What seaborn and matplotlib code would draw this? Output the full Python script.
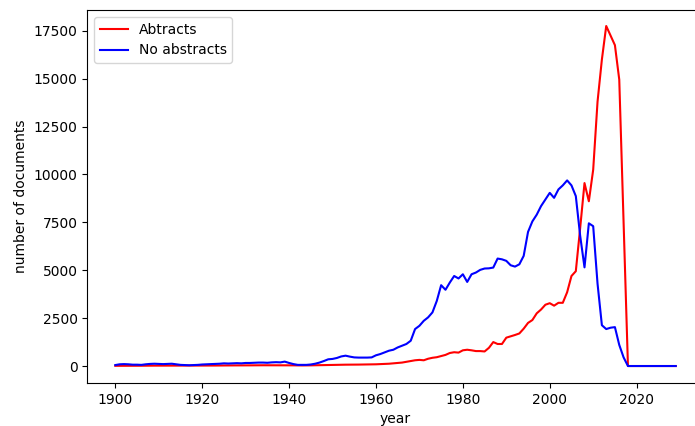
import numpy as np
import matplotlib
matplotlib.use('Agg')
import matplotlib.pyplot as plt
import seaborn as sns

# yearly document counts
years = list(range(1900, 2030))

abstracts = [
    10, 10, 12, 12, 15, 15, 15, 18, 20, 20,            # 1900s
    20, 20, 22, 22, 25, 20, 18, 15, 15, 18,            # 1910s
    20, 22, 25, 25, 28, 30, 30, 32, 32, 35,            # 1920s
    35, 35, 38, 40, 40, 40, 42, 42, 45, 45,            # 1930s
    40, 35, 30, 30, 30, 35, 40, 45, 50, 55,            # 1940s
    60, 60, 65, 70, 70, 72, 75, 78, 80, 85,            # 1950s
    90, 100, 110, 120, 140, 160, 180, 220, 260, 300,   # 1960s
    320, 300, 380, 430, 460, 520, 580, 680, 720, 700,  # 1970s
    820, 850, 820, 780, 780, 760, 950, 1250, 1150, 1150,  # 1980s
    1480, 1550, 1620, 1700, 1950, 2250, 2400, 2750, 2950, 3200,  # 1990s
    3280, 3150, 3300, 3300, 3850, 4700, 4950, 7200, 9550, 8600,  # 2000s
    10250, 13800, 16000, 17750, 17250, 16750, 14950, 7500, 0, 0,  # 2010s
    0, 0, 0, 0, 0, 0, 0, 0, 0, 0,                      # 2020s
]

no_abstracts = [
    50, 90, 100, 90, 70, 70, 60, 90, 110, 120,
    110, 100, 110, 120, 90, 60, 50, 40, 50, 60,
    80, 90, 100, 110, 120, 140, 130, 140, 150, 140,
    160, 160, 170, 180, 180, 170, 190, 200, 190, 230,
    160, 100, 60, 60, 60, 80, 120, 180, 260, 350,
    370, 420, 500, 540, 490, 450, 440, 440, 440, 450,
    560, 625, 710, 800, 850, 970, 1060, 1150, 1320, 1930,
    2100, 2360, 2540, 2800, 3400, 4220, 3980, 4360, 4700, 4570,
    4790, 4390, 4790, 4880, 5020, 5090, 5100, 5140, 5610, 5570,
    5490, 5260, 5190, 5310, 5750, 7000, 7550, 7900, 8350, 8700,
    9040, 8780, 9220, 9430, 9690, 9430, 8870, 6800, 5150, 7450,
    7300, 4300, 2130, 1930, 2000, 2030, 1100, 450, 0, 0,
    0, 0, 0, 0, 0, 0, 0, 0, 0, 0,
]

fig = plt.figure(figsize=(6.95, 4.26), dpi=100)
# axes runs past the right edge, like the cropped original
ax = fig.add_axes([0.1256, 0.101, 0.887, 0.8755])

sns.lineplot(x=years, y=abstracts, color='red', label='Abtracts', ax=ax)
sns.lineplot(x=years, y=no_abstracts, color='blue', label='No abstracts', ax=ax)

ax.set_xlim(1893.55, 2035.45)
ax.set_ylim(-885, 18585)
ax.set_xticks(range(1900, 2021, 20))
ax.set_yticks(range(0, 17501, 2500))
ax.set_xlabel('year')
ax.set_ylabel('number of documents')
ax.legend(loc='upper left')

plt.savefig('out.png', dpi=100)
plt.close(fig)
